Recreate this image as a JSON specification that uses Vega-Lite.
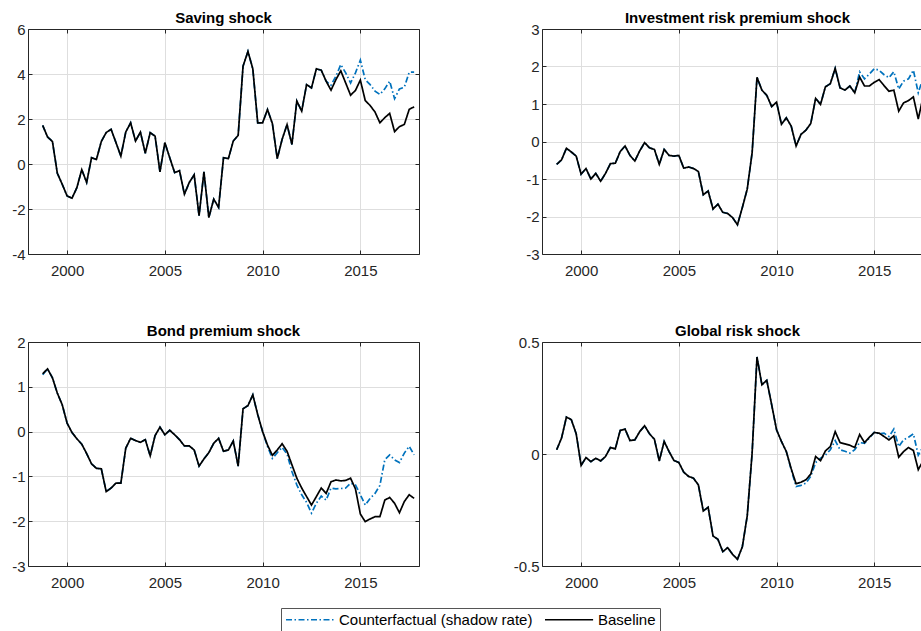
{
  "$schema": "https://vega.github.io/schema/vega-lite/v6.json",
  "autosize": {"type": "none"},
  "padding": {"left": 28, "top": 29, "right": 893, "bottom": 602},
  "background": "white",
  "datasets": {
    "saving": [
      {"t":1998.75,"cf":1.72,"base":1.72},{"t":1999,"cf":1.2,"base":1.2},{"t":1999.25,"cf":1.0,"base":1.0},{"t":1999.5,"cf":-0.41,"base":-0.41},
      {"t":1999.75,"cf":-0.9,"base":-0.9},{"t":2000,"cf":-1.42,"base":-1.42},{"t":2000.25,"cf":-1.52,"base":-1.52},{"t":2000.5,"cf":-1.05,"base":-1.05},
      {"t":2000.75,"cf":-0.25,"base":-0.25},{"t":2001,"cf":-0.82,"base":-0.82},{"t":2001.25,"cf":0.28,"base":0.28},{"t":2001.5,"cf":0.2,"base":0.2},
      {"t":2001.75,"cf":1.0,"base":1.0},{"t":2002,"cf":1.4,"base":1.4},{"t":2002.25,"cf":1.54,"base":1.54},{"t":2002.5,"cf":0.95,"base":0.95},
      {"t":2002.75,"cf":0.35,"base":0.35},{"t":2003,"cf":1.42,"base":1.42},{"t":2003.25,"cf":1.83,"base":1.83},{"t":2003.5,"cf":1.02,"base":1.02},
      {"t":2003.75,"cf":1.42,"base":1.42},{"t":2004,"cf":0.48,"base":0.48},{"t":2004.25,"cf":1.39,"base":1.39},{"t":2004.5,"cf":1.24,"base":1.24},
      {"t":2004.75,"cf":-0.35,"base":-0.35},{"t":2005,"cf":0.95,"base":0.95},{"t":2005.25,"cf":0.28,"base":0.28},{"t":2005.5,"cf":-0.38,"base":-0.38},
      {"t":2005.75,"cf":-0.3,"base":-0.3},{"t":2006,"cf":-1.34,"base":-1.34},{"t":2006.25,"cf":-0.82,"base":-0.82},{"t":2006.5,"cf":-0.48,"base":-0.48},
      {"t":2006.75,"cf":-2.3,"base":-2.3},{"t":2007,"cf":-0.35,"base":-0.35},{"t":2007.25,"cf":-2.38,"base":-2.38},{"t":2007.5,"cf":-1.56,"base":-1.56},
      {"t":2007.75,"cf":-1.93,"base":-1.93},{"t":2008,"cf":0.28,"base":0.28},{"t":2008.25,"cf":0.24,"base":0.24},{"t":2008.5,"cf":1.02,"base":1.02},
      {"t":2008.75,"cf":1.27,"base":1.27},{"t":2009,"cf":4.35,"base":4.35},{"t":2009.25,"cf":5.0,"base":5.0},{"t":2009.5,"cf":4.23,"base":4.23},
      {"t":2009.75,"cf":1.83,"base":1.83},{"t":2010,"cf":1.83,"base":1.83},{"t":2010.25,"cf":2.42,"base":2.42},{"t":2010.5,"cf":1.8,"base":1.8},
      {"t":2010.75,"cf":0.24,"base":0.24},{"t":2011,"cf":1.1,"base":1.1},{"t":2011.25,"cf":1.75,"base":1.75},{"t":2011.5,"cf":0.87,"base":0.87},
      {"t":2011.75,"cf":2.8,"base":2.8},{"t":2012,"cf":2.35,"base":2.35},{"t":2012.25,"cf":3.53,"base":3.53},{"t":2012.5,"cf":3.38,"base":3.38},
      {"t":2012.75,"cf":4.23,"base":4.23},{"t":2013,"cf":4.17,"base":4.17},{"t":2013.25,"cf":3.68,"base":3.68},{"t":2013.5,"cf":3.5,"base":3.28},
      {"t":2013.75,"cf":3.9,"base":3.75},{"t":2014,"cf":4.42,"base":4.14},{"t":2014.25,"cf":4.05,"base":3.6},{"t":2014.5,"cf":3.6,"base":3.06},
      {"t":2014.75,"cf":4.05,"base":3.27},{"t":2015,"cf":4.62,"base":3.73},{"t":2015.25,"cf":3.75,"base":2.82},{"t":2015.5,"cf":3.53,"base":2.6},
      {"t":2015.75,"cf":3.24,"base":2.31},{"t":2016,"cf":3.09,"base":1.83},{"t":2016.25,"cf":3.34,"base":2.06},{"t":2016.5,"cf":3.68,"base":2.25},
      {"t":2016.75,"cf":2.9,"base":1.44},{"t":2017,"cf":3.34,"base":1.66},{"t":2017.25,"cf":3.41,"base":1.76},{"t":2017.5,"cf":4.08,"base":2.43},
      {"t":2017.75,"cf":4.08,"base":2.54}
    ],
    "investment": [
      {"t":1998.75,"cf":-0.61,"base":-0.61},{"t":1999,"cf":-0.49,"base":-0.49},{"t":1999.25,"cf":-0.18,"base":-0.18},{"t":1999.5,"cf":-0.28,"base":-0.28},
      {"t":1999.75,"cf":-0.39,"base":-0.39},{"t":2000,"cf":-0.87,"base":-0.87},{"t":2000.25,"cf":-0.72,"base":-0.72},{"t":2000.5,"cf":-1.0,"base":-1.0},
      {"t":2000.75,"cf":-0.85,"base":-0.85},{"t":2001,"cf":-1.06,"base":-1.06},{"t":2001.25,"cf":-0.85,"base":-0.85},{"t":2001.5,"cf":-0.59,"base":-0.59},
      {"t":2001.75,"cf":-0.58,"base":-0.58},{"t":2002,"cf":-0.27,"base":-0.27},{"t":2002.25,"cf":-0.12,"base":-0.12},{"t":2002.5,"cf":-0.37,"base":-0.37},
      {"t":2002.75,"cf":-0.52,"base":-0.52},{"t":2003,"cf":-0.25,"base":-0.25},{"t":2003.25,"cf":-0.03,"base":-0.03},{"t":2003.5,"cf":-0.17,"base":-0.17},
      {"t":2003.75,"cf":-0.21,"base":-0.21},{"t":2004,"cf":-0.61,"base":-0.61},{"t":2004.25,"cf":-0.21,"base":-0.21},{"t":2004.5,"cf":-0.37,"base":-0.37},
      {"t":2004.75,"cf":-0.39,"base":-0.39},{"t":2005,"cf":-0.37,"base":-0.37},{"t":2005.25,"cf":-0.71,"base":-0.71},{"t":2005.5,"cf":-0.68,"base":-0.68},
      {"t":2005.75,"cf":-0.72,"base":-0.72},{"t":2006,"cf":-0.8,"base":-0.8},{"t":2006.25,"cf":-1.42,"base":-1.42},{"t":2006.5,"cf":-1.32,"base":-1.32},
      {"t":2006.75,"cf":-1.8,"base":-1.8},{"t":2007,"cf":-1.67,"base":-1.67},{"t":2007.25,"cf":-1.89,"base":-1.89},{"t":2007.5,"cf":-1.92,"base":-1.92},
      {"t":2007.75,"cf":-2.03,"base":-2.03},{"t":2008,"cf":-2.22,"base":-2.22},{"t":2008.25,"cf":-1.76,"base":-1.76},{"t":2008.5,"cf":-1.27,"base":-1.27},
      {"t":2008.75,"cf":-0.3,"base":-0.3},{"t":2009,"cf":1.71,"base":1.71},{"t":2009.25,"cf":1.37,"base":1.37},{"t":2009.5,"cf":1.23,"base":1.23},
      {"t":2009.75,"cf":0.93,"base":0.93},{"t":2010,"cf":1.05,"base":1.05},{"t":2010.25,"cf":0.46,"base":0.46},{"t":2010.5,"cf":0.63,"base":0.63},
      {"t":2010.75,"cf":0.41,"base":0.41},{"t":2011,"cf":-0.12,"base":-0.12},{"t":2011.25,"cf":0.19,"base":0.19},{"t":2011.5,"cf":0.3,"base":0.3},
      {"t":2011.75,"cf":0.48,"base":0.48},{"t":2012,"cf":1.15,"base":1.15},{"t":2012.25,"cf":0.99,"base":0.99},{"t":2012.5,"cf":1.46,"base":1.46},
      {"t":2012.75,"cf":1.54,"base":1.54},{"t":2013,"cf":1.95,"base":1.95},{"t":2013.25,"cf":1.43,"base":1.43},{"t":2013.5,"cf":1.37,"base":1.37},
      {"t":2013.75,"cf":1.48,"base":1.48},{"t":2014,"cf":1.3,"base":1.3},{"t":2014.25,"cf":1.86,"base":1.72},{"t":2014.5,"cf":1.67,"base":1.48},
      {"t":2014.75,"cf":1.8,"base":1.48},{"t":2015,"cf":1.94,"base":1.58},{"t":2015.25,"cf":1.9,"base":1.65},{"t":2015.5,"cf":1.78,"base":1.49},
      {"t":2015.75,"cf":1.7,"base":1.34},{"t":2016,"cf":1.86,"base":1.37},{"t":2016.25,"cf":1.4,"base":0.81},{"t":2016.5,"cf":1.61,"base":1.03},
      {"t":2016.75,"cf":1.67,"base":1.09},{"t":2017,"cf":1.9,"base":1.19},{"t":2017.25,"cf":1.3,"base":0.6},{"t":2017.5,"cf":1.7,"base":1.2},
      {"t":2017.75,"cf":1.75,"base":1.3}
    ],
    "bond": [
      {"t":1998.75,"cf":1.27,"base":1.29},{"t":1999,"cf":1.4,"base":1.4},{"t":1999.25,"cf":1.2,"base":1.2},{"t":1999.5,"cf":0.86,"base":0.86},
      {"t":1999.75,"cf":0.6,"base":0.6},{"t":2000,"cf":0.19,"base":0.19},{"t":2000.25,"cf":-0.02,"base":-0.02},{"t":2000.5,"cf":-0.16,"base":-0.16},
      {"t":2000.75,"cf":-0.28,"base":-0.28},{"t":2001,"cf":-0.49,"base":-0.49},{"t":2001.25,"cf":-0.72,"base":-0.72},{"t":2001.5,"cf":-0.82,"base":-0.82},
      {"t":2001.75,"cf":-0.83,"base":-0.83},{"t":2002,"cf":-1.34,"base":-1.34},{"t":2002.25,"cf":-1.26,"base":-1.26},{"t":2002.5,"cf":-1.15,"base":-1.15},
      {"t":2002.75,"cf":-1.15,"base":-1.15},{"t":2003,"cf":-0.37,"base":-0.37},{"t":2003.25,"cf":-0.15,"base":-0.15},{"t":2003.5,"cf":-0.2,"base":-0.2},
      {"t":2003.75,"cf":-0.24,"base":-0.24},{"t":2004,"cf":-0.18,"base":-0.18},{"t":2004.25,"cf":-0.54,"base":-0.54},{"t":2004.5,"cf":-0.09,"base":-0.09},
      {"t":2004.75,"cf":0.1,"base":0.1},{"t":2005,"cf":-0.07,"base":-0.07},{"t":2005.25,"cf":0.03,"base":0.03},{"t":2005.5,"cf":-0.07,"base":-0.07},
      {"t":2005.75,"cf":-0.18,"base":-0.18},{"t":2006,"cf":-0.32,"base":-0.32},{"t":2006.25,"cf":-0.32,"base":-0.32},{"t":2006.5,"cf":-0.41,"base":-0.41},
      {"t":2006.75,"cf":-0.77,"base":-0.77},{"t":2007,"cf":-0.61,"base":-0.61},{"t":2007.25,"cf":-0.47,"base":-0.47},{"t":2007.5,"cf":-0.26,"base":-0.26},
      {"t":2007.75,"cf":-0.15,"base":-0.15},{"t":2008,"cf":-0.44,"base":-0.44},{"t":2008.25,"cf":-0.41,"base":-0.41},{"t":2008.5,"cf":-0.21,"base":-0.21},
      {"t":2008.75,"cf":-0.77,"base":-0.77},{"t":2009,"cf":0.51,"base":0.51},{"t":2009.25,"cf":0.58,"base":0.58},{"t":2009.5,"cf":0.82,"base":0.82},
      {"t":2009.75,"cf":0.38,"base":0.38},{"t":2010,"cf":0.0,"base":0.0},{"t":2010.25,"cf":-0.33,"base":-0.3},{"t":2010.5,"cf":-0.6,"base":-0.53},
      {"t":2010.75,"cf":-0.47,"base":-0.41},{"t":2011,"cf":-0.35,"base":-0.27},{"t":2011.25,"cf":-0.5,"base":-0.44},{"t":2011.5,"cf":-0.89,"base":-0.74},
      {"t":2011.75,"cf":-1.19,"base":-1.04},{"t":2012,"cf":-1.41,"base":-1.26},{"t":2012.25,"cf":-1.58,"base":-1.45},{"t":2012.5,"cf":-1.82,"base":-1.64},
      {"t":2012.75,"cf":-1.6,"base":-1.45},{"t":2013,"cf":-1.44,"base":-1.26},{"t":2013.25,"cf":-1.53,"base":-1.38},{"t":2013.5,"cf":-1.26,"base":-1.12},
      {"t":2013.75,"cf":-1.28,"base":-1.08},{"t":2014,"cf":-1.27,"base":-1.1},{"t":2014.25,"cf":-1.26,"base":-1.09},{"t":2014.5,"cf":-1.15,"base":-1.04},
      {"t":2014.75,"cf":-1.19,"base":-1.28},{"t":2015,"cf":-1.41,"base":-1.84},{"t":2015.25,"cf":-1.64,"base":-2.01},{"t":2015.5,"cf":-1.49,"base":-1.95},
      {"t":2015.75,"cf":-1.38,"base":-1.9},{"t":2016,"cf":-1.2,"base":-1.9},{"t":2016.25,"cf":-0.63,"base":-1.53},{"t":2016.5,"cf":-0.52,"base":-1.47},
      {"t":2016.75,"cf":-0.63,"base":-1.6},{"t":2017,"cf":-0.69,"base":-1.81},{"t":2017.25,"cf":-0.48,"base":-1.56},{"t":2017.5,"cf":-0.33,"base":-1.41},
      {"t":2017.75,"cf":-0.52,"base":-1.49}
    ],
    "global": [
      {"t":1998.75,"cf":0.019,"base":0.019},{"t":1999,"cf":0.071,"base":0.071},{"t":1999.25,"cf":0.165,"base":0.165},{"t":1999.5,"cf":0.153,"base":0.153},
      {"t":1999.75,"cf":0.09,"base":0.09},{"t":2000,"cf":-0.051,"base":-0.051},{"t":2000.25,"cf":-0.016,"base":-0.016},{"t":2000.5,"cf":-0.034,"base":-0.034},
      {"t":2000.75,"cf":-0.019,"base":-0.019},{"t":2001,"cf":-0.031,"base":-0.031},{"t":2001.25,"cf":-0.011,"base":-0.011},{"t":2001.5,"cf":0.029,"base":0.029},
      {"t":2001.75,"cf":0.023,"base":0.023},{"t":2002,"cf":0.105,"base":0.105},{"t":2002.25,"cf":0.111,"base":0.111},{"t":2002.5,"cf":0.06,"base":0.06},
      {"t":2002.75,"cf":0.063,"base":0.063},{"t":2003,"cf":0.1,"base":0.1},{"t":2003.25,"cf":0.126,"base":0.126},{"t":2003.5,"cf":0.09,"base":0.09},
      {"t":2003.75,"cf":0.066,"base":0.066},{"t":2004,"cf":-0.031,"base":-0.031},{"t":2004.25,"cf":0.056,"base":0.056},{"t":2004.5,"cf":0.011,"base":0.011},
      {"t":2004.75,"cf":-0.029,"base":-0.029},{"t":2005,"cf":-0.038,"base":-0.038},{"t":2005.25,"cf":-0.081,"base":-0.081},{"t":2005.5,"cf":-0.1,"base":-0.1},
      {"t":2005.75,"cf":-0.108,"base":-0.108},{"t":2006,"cf":-0.138,"base":-0.138},{"t":2006.25,"cf":-0.254,"base":-0.254},{"t":2006.5,"cf":-0.238,"base":-0.238},
      {"t":2006.75,"cf":-0.366,"base":-0.366},{"t":2007,"cf":-0.381,"base":-0.381},{"t":2007.25,"cf":-0.436,"base":-0.436},{"t":2007.5,"cf":-0.418,"base":-0.418},
      {"t":2007.75,"cf":-0.448,"base":-0.448},{"t":2008,"cf":-0.47,"base":-0.47},{"t":2008.25,"cf":-0.414,"base":-0.414},{"t":2008.5,"cf":-0.276,"base":-0.276},
      {"t":2008.75,"cf":0.004,"base":0.004},{"t":2009,"cf":0.433,"base":0.433},{"t":2009.25,"cf":0.309,"base":0.309},{"t":2009.5,"cf":0.329,"base":0.329},
      {"t":2009.75,"cf":0.22,"base":0.22},{"t":2010,"cf":0.108,"base":0.108},{"t":2010.25,"cf":0.056,"base":0.056},{"t":2010.5,"cf":0.011,"base":0.011},
      {"t":2010.75,"cf":-0.07,"base":-0.066},{"t":2011,"cf":-0.145,"base":-0.133},{"t":2011.25,"cf":-0.14,"base":-0.126},{"t":2011.5,"cf":-0.13,"base":-0.115},
      {"t":2011.75,"cf":-0.1,"base":-0.09},{"t":2012,"cf":-0.038,"base":-0.011},{"t":2012.25,"cf":-0.019,"base":-0.03},{"t":2012.5,"cf":-0.005,"base":0.014},
      {"t":2012.75,"cf":0.019,"base":0.033},{"t":2013,"cf":0.06,"base":0.1},{"t":2013.25,"cf":0.019,"base":0.051},{"t":2013.5,"cf":0.012,"base":0.045},
      {"t":2013.75,"cf":0.004,"base":0.039},{"t":2014,"cf":0.019,"base":0.029},{"t":2014.25,"cf":0.051,"base":0.087},{"t":2014.5,"cf":0.048,"base":0.051},
      {"t":2014.75,"cf":0.071,"base":0.075},{"t":2015,"cf":0.097,"base":0.096},{"t":2015.25,"cf":0.09,"base":0.093},{"t":2015.5,"cf":0.093,"base":0.078},
      {"t":2015.75,"cf":0.078,"base":0.063},{"t":2016,"cf":0.111,"base":0.081},{"t":2016.25,"cf":0.033,"base":-0.014},{"t":2016.5,"cf":0.063,"base":0.011},
      {"t":2016.75,"cf":0.075,"base":0.029},{"t":2017,"cf":0.09,"base":0.016},{"t":2017.25,"cf":-0.005,"base":-0.07},{"t":2017.5,"cf":0.033,"base":-0.03},
      {"t":2017.75,"cf":0.04,"base":-0.02}
    ]
  },
  "config": {
    "view": {"stroke": null},
    "font": "Liberation Sans",
    "axis": {
      "title": null,
      "labelFont": "Liberation Sans",
      "labelFontSize": 15,
      "labelColor": "#262626",
      "domainColor": "#262626",
      "domainWidth": 1,
      "tickColor": "#262626",
      "tickWidth": 1,
      "tickSize": -4,
      "gridColor": "#dedede",
      "gridWidth": 1
    },
    "axisX": {"labelPadding": 13},
    "axisY": {"labelPadding": 7},
    "title": {
      "font": "Liberation Sans",
      "fontSize": 15,
      "fontWeight": "bold",
      "color": "#000000",
      "anchor": "middle",
      "frame": "group",
      "baseline": "alphabetic",
      "offset": 6,
      "dy": 10
    },
    "legend": {
      "orient": "none",
      "legendX": 253,
      "legendY": 579,
      "direction": "horizontal",
      "title": null,
      "padding": 4,
      "strokeColor": "#555555",
      "fillColor": "#ffffff",
      "symbolType": "M-1,0H6.4",
      "symbolSize": 169,
      "symbolStrokeWidth": 1.7,
      "labelFont": "Liberation Sans",
      "labelFontSize": 15,
      "labelColor": "#000000",
      "labelOffset": 39,
      "labelLimit": 0,
      "columnPadding": 8
    }
  },
  "bounds": "flush",
  "columns": 2,
  "spacing": {"row": 88, "column": 123},
  "resolve": {"scale": {"x": "independent", "y": "independent", "color": "shared", "strokeDash": "shared"}},
  "concat": [
    {
      "title": "Saving shock",
      "width": 391,
      "height": 225,
      "data": {"name": "saving"},
      "transform": [{"fold": ["cf", "base"], "as": ["series", "value"]}],
      "layer": [
        {
          "mark": {"type": "line", "clip": true, "strokeWidth": 1.7},
          "encoding": {
            "x": {"field": "t", "type": "quantitative", "scale": {"domain": [1998, 2018], "nice": false, "zero": false}, "axis": {"values": [2000, 2005, 2010, 2015], "format": "d", "grid": true}},
            "y": {"field": "value", "type": "quantitative", "scale": {"domain": [-4, 6], "nice": false, "zero": false}, "axis": {"values": [-4, -2, 0, 2, 4, 6], "labelExpr": "datum.value + ''", "grid": true}},
            "color": {"field": "series", "type": "nominal", "scale": {"domain": ["cf", "base"], "range": ["#0072BD", "#000000"]}, "legend": {"labelExpr": "datum.value == 'cf' ? 'Counterfactual (shadow rate)' : 'Baseline'"}},
            "strokeDash": {"field": "series", "type": "nominal", "scale": {"domain": ["cf", "base"], "range": [[6, 2.5, 1.5, 2.5], [1, 0]]}, "legend": {"labelExpr": "datum.value == 'cf' ? 'Counterfactual (shadow rate)' : 'Baseline'"}}
          }
        },
        {
          "mark": {"type": "line", "opacity": 0},
          "encoding": {
            "x": {"field": "t", "type": "quantitative", "axis": {"orient": "top", "labels": false, "grid": false, "values": [2000, 2005, 2010, 2015]}},
            "y": {"field": "value", "type": "quantitative", "axis": {"orient": "right", "labels": false, "grid": false, "values": [-4, -2, 0, 2, 4, 6]}}
          }
        }
      ],
      "resolve": {"axis": {"x": "independent", "y": "independent"}}
    },
    {
      "title": {"text": "Investment risk premium shock", "dx": 6},
      "width": 379,
      "height": 225,
      "data": {"name": "investment"},
      "transform": [{"fold": ["cf", "base"], "as": ["series", "value"]}],
      "layer": [
        {
          "mark": {"type": "line", "clip": true, "strokeWidth": 1.7},
          "encoding": {
            "x": {"field": "t", "type": "quantitative", "scale": {"domain": [1998, 2017.39], "nice": false, "zero": false}, "axis": {"values": [2000, 2005, 2010, 2015], "format": "d", "grid": true}},
            "y": {"field": "value", "type": "quantitative", "scale": {"domain": [-3, 3], "nice": false, "zero": false}, "axis": {"values": [-3, -2, -1, 0, 1, 2, 3], "labelExpr": "datum.value + ''", "grid": true}},
            "color": {"field": "series", "type": "nominal", "scale": {"domain": ["cf", "base"], "range": ["#0072BD", "#000000"]}, "legend": {"labelExpr": "datum.value == 'cf' ? 'Counterfactual (shadow rate)' : 'Baseline'"}},
            "strokeDash": {"field": "series", "type": "nominal", "scale": {"domain": ["cf", "base"], "range": [[6, 2.5, 1.5, 2.5], [1, 0]]}, "legend": {"labelExpr": "datum.value == 'cf' ? 'Counterfactual (shadow rate)' : 'Baseline'"}}
          }
        },
        {
          "mark": {"type": "line", "opacity": 0},
          "encoding": {
            "x": {"field": "t", "type": "quantitative", "axis": {"orient": "top", "labels": false, "grid": false, "values": [2000, 2005, 2010, 2015]}},
            "y": {"field": "value", "type": "quantitative", "axis": null}
          }
        }
      ],
      "resolve": {"axis": {"x": "independent", "y": "independent"}}
    },
    {
      "title": "Bond premium shock",
      "width": 391,
      "height": 224,
      "data": {"name": "bond"},
      "transform": [{"fold": ["cf", "base"], "as": ["series", "value"]}],
      "layer": [
        {
          "mark": {"type": "line", "clip": true, "strokeWidth": 1.7},
          "encoding": {
            "x": {"field": "t", "type": "quantitative", "scale": {"domain": [1998, 2018], "nice": false, "zero": false}, "axis": {"values": [2000, 2005, 2010, 2015], "format": "d", "grid": true}},
            "y": {"field": "value", "type": "quantitative", "scale": {"domain": [-3, 2], "nice": false, "zero": false}, "axis": {"values": [-3, -2, -1, 0, 1, 2], "labelExpr": "datum.value + ''", "grid": true}},
            "color": {"field": "series", "type": "nominal", "scale": {"domain": ["cf", "base"], "range": ["#0072BD", "#000000"]}, "legend": {"labelExpr": "datum.value == 'cf' ? 'Counterfactual (shadow rate)' : 'Baseline'"}},
            "strokeDash": {"field": "series", "type": "nominal", "scale": {"domain": ["cf", "base"], "range": [[6, 2.5, 1.5, 2.5], [1, 0]]}, "legend": {"labelExpr": "datum.value == 'cf' ? 'Counterfactual (shadow rate)' : 'Baseline'"}}
          }
        },
        {
          "mark": {"type": "line", "opacity": 0},
          "encoding": {
            "x": {"field": "t", "type": "quantitative", "axis": {"orient": "top", "labels": false, "grid": false, "values": [2000, 2005, 2010, 2015]}},
            "y": {"field": "value", "type": "quantitative", "axis": {"orient": "right", "labels": false, "grid": false, "values": [-3, -2, -1, 0, 1, 2]}}
          }
        }
      ],
      "resolve": {"axis": {"x": "independent", "y": "independent"}}
    },
    {
      "title": {"text": "Global risk shock", "dx": 6},
      "width": 379,
      "height": 224,
      "data": {"name": "global"},
      "transform": [{"fold": ["cf", "base"], "as": ["series", "value"]}],
      "layer": [
        {
          "mark": {"type": "line", "clip": true, "strokeWidth": 1.7},
          "encoding": {
            "x": {"field": "t", "type": "quantitative", "scale": {"domain": [1998, 2017.39], "nice": false, "zero": false}, "axis": {"values": [2000, 2005, 2010, 2015], "format": "d", "grid": true}},
            "y": {"field": "value", "type": "quantitative", "scale": {"domain": [-0.5, 0.5], "nice": false, "zero": false}, "axis": {"values": [-0.5, 0, 0.5], "labelExpr": "datum.value + ''", "grid": true}},
            "color": {"field": "series", "type": "nominal", "scale": {"domain": ["cf", "base"], "range": ["#0072BD", "#000000"]}, "legend": {"labelExpr": "datum.value == 'cf' ? 'Counterfactual (shadow rate)' : 'Baseline'"}},
            "strokeDash": {"field": "series", "type": "nominal", "scale": {"domain": ["cf", "base"], "range": [[6, 2.5, 1.5, 2.5], [1, 0]]}, "legend": {"labelExpr": "datum.value == 'cf' ? 'Counterfactual (shadow rate)' : 'Baseline'"}}
          }
        },
        {
          "mark": {"type": "line", "opacity": 0},
          "encoding": {
            "x": {"field": "t", "type": "quantitative", "axis": {"orient": "top", "labels": false, "grid": false, "values": [2000, 2005, 2010, 2015]}},
            "y": {"field": "value", "type": "quantitative", "axis": null}
          }
        }
      ],
      "resolve": {"axis": {"x": "independent", "y": "independent"}}
    }
  ]
}
